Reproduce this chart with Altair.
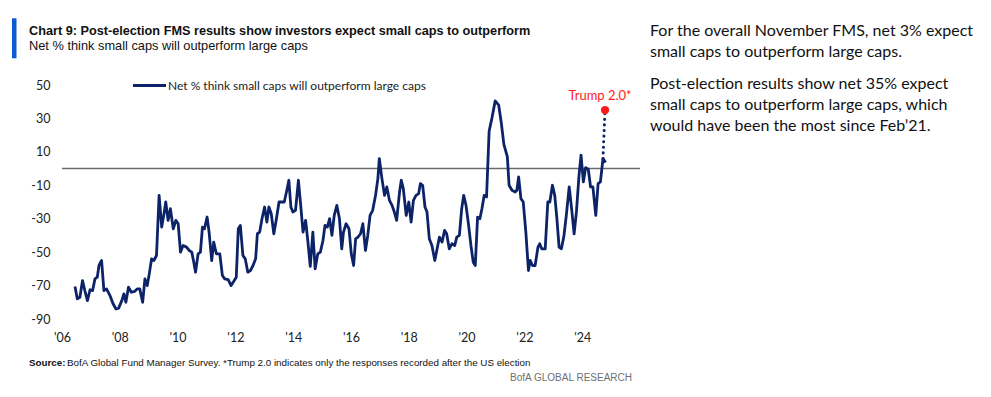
import altair as alt
import pandas as pd

# ---------------- data ----------------
years = [
    2006.45, 2006.53, 2006.62, 2006.71, 2006.79, 2006.88, 2006.97, 2007.06, 2007.14, 2007.22,
    2007.28, 2007.37, 2007.45, 2007.54, 2007.66, 2007.77, 2007.87, 2007.96, 2008.07, 2008.14,
    2008.21, 2008.30, 2008.40, 2008.51, 2008.60, 2008.69, 2008.79, 2008.87, 2008.95, 2009.02,
    2009.10, 2009.18, 2009.27, 2009.36, 2009.45, 2009.52, 2009.59, 2009.67, 2009.75, 2009.85,
    2009.94, 2010.02, 2010.10, 2010.19, 2010.31, 2010.40, 2010.49, 2010.56, 2010.62, 2010.71,
    2010.79, 2010.86, 2010.93, 2011.02, 2011.09, 2011.18, 2011.25, 2011.34, 2011.46, 2011.55,
    2011.63, 2011.75, 2011.85, 2011.94, 2012.03, 2012.10, 2012.17, 2012.26, 2012.34, 2012.43,
    2012.52, 2012.61, 2012.70, 2012.76, 2012.84, 2012.92, 2013.01, 2013.09, 2013.16, 2013.24,
    2013.33, 2013.42, 2013.51, 2013.60, 2013.69, 2013.78, 2013.85, 2013.92, 2013.99, 2014.08,
    2014.18, 2014.26, 2014.34, 2014.43, 2014.51, 2014.59, 2014.68, 2014.76, 2014.85, 2014.94,
    2015.03, 2015.10, 2015.18, 2015.26,
    2015.34, 2015.42, 2015.51, 2015.60, 2015.68, 2015.74, 2015.83, 2015.93, 2016.01, 2016.09,
    2016.16, 2016.24, 2016.33, 2016.41, 2016.50, 2016.58, 2016.66, 2016.75, 2016.85, 2016.93,
    2016.98, 2017.07, 2017.16, 2017.24, 2017.33, 2017.42, 2017.50, 2017.58, 2017.68, 2017.74,
    2017.81, 2017.91, 2018.00, 2018.08, 2018.16, 2018.25, 2018.34, 2018.40, 2018.48, 2018.56,
    2018.63, 2018.71, 2018.80, 2018.90, 2018.98, 2019.06, 2019.15, 2019.24, 2019.31, 2019.40,
    2019.49, 2019.59, 2019.66, 2019.75, 2019.83, 2019.90, 2019.98, 2020.07, 2020.15, 2020.23,
    2020.30, 2020.38, 2020.46, 2020.53, 2020.61, 2020.69, 2020.78, 2020.88, 2020.99, 2021.11,
    2021.20, 2021.29, 2021.41, 2021.47, 2021.57, 2021.68, 2021.74, 2021.80, 2021.88, 2021.96,
    2022.05, 2022.14, 2022.20, 2022.28, 2022.37, 2022.47, 2022.53, 2022.60, 2022.72, 2022.81,
    2022.88, 2022.97, 2023.05, 2023.12, 2023.20, 2023.28, 2023.37, 2023.45, 2023.55, 2023.64,
    2023.72, 2023.80, 2023.89, 2023.96, 2024.04, 2024.12, 2024.21, 2024.29, 2024.37, 2024.47,
    2024.55, 2024.63, 2024.72, 2024.81,
]
values = [
    -70.5, -78, -77, -67, -73, -79, -72.5, -73, -66, -65,
    -58, -55, -73, -72, -76, -81, -84, -83.5, -79, -75,
    -80, -71, -74, -73.5, -72, -72, -80, -66, -70, -63,
    -54, -55, -52, -16, -35, -28, -20, -31, -24, -36,
    -31, -33, -50, -46, -47, -49, -50, -56, -62, -51,
    -50, -35, -36, -29, -38, -55, -44, -51, -51, -64,
    -66, -66.5, -70, -67.5, -65, -36, -34, -52, -54, -62,
    -61, -58, -54, -39, -38, -30, -23, -32, -23, -27,
    -39, -30, -20, -20, -20, -13, -7, -23, -26, -25,
    -7, -22, -38, -31, -44, -58.5, -38, -60, -51, -50,
    -43, -34, -35, -30,
    -40, -28, -22, -30, -48, -38, -33, -36, -51, -58,
    -42, -41, -39, -33, -49, -40, -28, -25, -16, -6,
    6, -6, -16, -11, -19, -22, -26, -31, -14, -7,
    -12, -28, -20, -32, -19, -16, -15, -9, -10, -23,
    -26, -42, -46, -55, -48, -41, -44, -37, -39, -48,
    -45, -46, -41, -40, -24, -16, -22, -34, -46, -56,
    -58, -29, -30, -24, -16, -17, 22.5, 30.5, 40.5, 38,
    27.5, 14.5, 7, -10, -13, -14, -13, -5, -18, -20,
    -38, -61, -55, -58, -58, -47, -45, -48, -48, -20,
    -20, -10, -16, -29, -47, -48, -40, -28, -11, -25,
    -39, -26, -4, 8, -8, 0.6, -0.4, -11, -11, -28,
    -9, -8, 6, 3.6,
]
trump_years = [2024.72, 2024.79]
trump_values = [6, 35]
x_ticks = [2006, 2008, 2010, 2012, 2014, 2016, 2018, 2020, 2022, 2024]
y_ticks = [-90, -70, -50, -30, -10, 10, 30, 50]

title_text = "Chart 9: Post-election FMS results show investors expect small caps to outperform"
subtitle_text = "Net % think small caps will outperform large caps"
legend_text = "Net % think small caps will outperform large caps"
trump_label = "Trump 2.0*"
para1 = ["For the overall November FMS, net 3% expect", "small caps to outperform large caps."]
para2 = ["Post-election results show net 35% expect",
         "small caps to outperform large caps, which",
         "would have been the most since Feb\u201921."]
source_bold = "Source:"
source_rest = "BofA Global Fund Manager Survey. *Trump 2.0 indicates only the responses recorded after the US election"
brand = "BofA GLOBAL RESEARCH"

# ---------------- styling / layout ----------------
NAVY = "#0c2368"
RED = "#ff1a1a"
W, H = 578, 234
OX, OY = 62, 85          # page position of plot origin


def X(px):
    return px - OX


def Y(py):
    return py - OY


NARROW = "Liberation Sans Narrow, Liberation Sans, Arial, sans-serif"
BODY = "Lato, Open Sans, sans-serif"

xscale = alt.Scale(domain=[2006, 2026], nice=False, zero=False)
yscale = alt.Scale(domain=[-90, 50], nice=False, zero=False)

xaxis = alt.Axis(
    values=x_ticks, title=None, domain=False, ticks=False, grid=False,
    labelExpr="\"'\" + substring(toString(datum.value), 2, 4)",
    labelFlush=False, labelPadding=12, labelFontSize=12.5, labelFont=BODY,
    labelColor="#222222")
yaxis = alt.Axis(
    values=y_ticks, title=None, domain=False, ticks=False, grid=False,
    labelExpr="toString(datum.value)", labelFlush=False,
    labelPadding=12, labelFontSize=12.5, labelFont=BODY, labelColor="#222222")

df = pd.DataFrame({"year": years, "value": values})
tdf = pd.DataFrame({"year": trump_years, "value": trump_values})
one = pd.DataFrame({"k": [0]})

zero_rule = alt.Chart(pd.DataFrame({"value": [0]})).mark_rule(
    color="#6b6b6b", strokeWidth=1.5
).encode(y=alt.Y("value:Q", scale=yscale, axis=yaxis))

line = alt.Chart(df).mark_line(
    color=NAVY, strokeWidth=2.8, strokeJoin="round"
).encode(
    x=alt.X("year:Q", scale=xscale, axis=xaxis),
    y=alt.Y("value:Q", scale=yscale, axis=yaxis),
)

dotted = alt.Chart(tdf).mark_line(
    color=NAVY, strokeWidth=3, strokeDash=[0.1, 5.5], strokeCap="round"
).encode(x=alt.X("year:Q", scale=xscale, axis=xaxis),
         y=alt.Y("value:Q", scale=yscale, axis=yaxis))

tpt = alt.Chart(tdf.tail(1)).mark_circle(color=RED, size=70, opacity=1).encode(
    x=alt.X("year:Q", scale=xscale, axis=xaxis),
    y=alt.Y("value:Q", scale=yscale, axis=yaxis))

tlabel = alt.Chart(tdf.tail(1)).mark_text(
    text=trump_label, color=RED, fontSize=13, font=BODY, align="center",
    baseline="alphabetic", dx=-5, dy=-10
).encode(x=alt.X("year:Q", scale=xscale, axis=xaxis),
         y=alt.Y("value:Q", scale=yscale, axis=yaxis))

leg_line = alt.Chart(one).mark_rule(color=NAVY, strokeWidth=2.8).encode(
    x=alt.value(X(133)), x2=alt.value(X(166)), y=alt.value(Y(85.5)))
leg_text = alt.Chart(one).mark_text(
    text=legend_text, fontSize=12, font=BODY, color="#222222",
    align="left", baseline="middle"
).encode(x=alt.value(X(168)), y=alt.value(Y(85.5)))

bar = alt.Chart(one).mark_rect(color="#0b5bd3").encode(
    x=alt.value(X(12)), x2=alt.value(X(16.5)), y=alt.value(Y(18.3)), y2=alt.value(Y(58.3)))
title = alt.Chart(one).mark_text(
    text=title_text, fontSize=12.7, font=NARROW, fontWeight="bold", color="#111111",
    align="left", baseline="alphabetic"
).encode(x=alt.value(X(29)), y=alt.value(Y(35)))
subtitle = alt.Chart(one).mark_text(
    text=subtitle_text, fontSize=12.8, font=NARROW, color="#111111",
    align="left", baseline="alphabetic"
).encode(x=alt.value(X(29)), y=alt.value(Y(49.5)))

p1 = alt.Chart(one).mark_text(
    text=para1, fontSize=16, font=BODY, color="#111111", lineHeight=21,
    align="left", baseline="alphabetic"
).encode(x=alt.value(X(650)), y=alt.value(Y(35.7)))
p2 = alt.Chart(one).mark_text(
    text=para2, fontSize=16, font=BODY, color="#111111", lineHeight=21,
    align="left", baseline="alphabetic"
).encode(x=alt.value(X(650)), y=alt.value(Y(89)))

src_b = alt.Chart(one).mark_text(
    text=source_bold, fontSize=9.8, font=NARROW, fontWeight="bold", color="#111111",
    align="left", baseline="alphabetic"
).encode(x=alt.value(X(29)), y=alt.value(Y(366)))
src_r = alt.Chart(one).mark_text(
    text=source_rest, fontSize=9.8, font=NARROW, color="#111111",
    align="left", baseline="alphabetic"
).encode(x=alt.value(X(67)), y=alt.value(Y(366)))
brand_t = alt.Chart(one).mark_text(
    text=brand, fontSize=10, font=NARROW, color="#707070",
    align="right", baseline="alphabetic"
).encode(x=alt.value(X(632)), y=alt.value(Y(381)))

chart = alt.layer(
    zero_rule, line, dotted, tpt, tlabel, leg_line, leg_text,
    bar, title, subtitle, p1, p2, src_b, src_r, brand_t,
).properties(
    width=W, height=H,
    autosize=alt.AutoSizeParams(type="none"),
    padding={"left": 54, "top": 77, "right": 340, "bottom": 66},
    background="white",
).configure_view(stroke=None)

chart.save("out.html", embed_options={"renderer": "svg", "actions": False})
